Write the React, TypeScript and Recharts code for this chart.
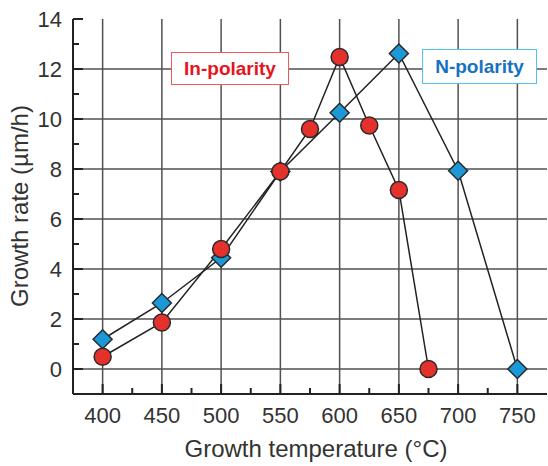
import React from "react";
import {
  LineChart,
  Line,
  XAxis,
  YAxis,
  ReferenceLine,
} from "recharts";

// growth rate (µm/h) vs growth temperature (°C)
const inTemps = [400, 450, 500, 550, 575, 600, 625, 650, 675];
const inRates = [0.49, 1.86, 4.8, 7.9, 9.6, 12.48, 9.74, 7.16, 0];

const nTemps = [400, 450, 500, 550, 600, 650, 700, 750];
const nRates = [1.19, 2.64, 4.45, 7.9, 10.25, 12.62, 7.93, 0];

const majorX = [400, 450, 500, 550, 600, 650, 700, 750];
const minorX = [425, 475, 525, 575, 625, 675, 725];
const majorY = [0, 2, 4, 6, 8, 10, 12, 14];
const minorY = [1, 3, 5, 7, 9, 11, 13];
const gridY = [0, 2, 4, 6, 8, 10, 12];

const xTicks = [...majorX, ...minorX].sort((a, b) => a - b);
const yTicks = [...majorY, ...minorY].sort((a, b) => a - b);

const inData = inTemps.map((t, i) => ({ t, rate: inRates[i] }));
const nData = nTemps.map((t, i) => ({ t, rate: nRates[i] }));

const FONT = "'Liberation Sans', Arial, sans-serif";
const FRAME = "#222";

const tickLen = (major: boolean) => (major ? 10 : 6);

const BottomTick = (p: any) => {
  const v = p.payload.value;
  const major = majorX.includes(v);
  return (
    <g>
      <line x1={p.x} x2={p.x} y1={p.y} y2={p.y - tickLen(major)} stroke={FRAME} strokeWidth={2} />
      {major && (
        <text x={p.x} y={p.y + 29} textAnchor="middle" fontSize={22} fill="#333" fontFamily={FONT}>
          {v}
        </text>
      )}
    </g>
  );
};

const TopTick = (p: any) => {
  const major = majorX.includes(p.payload.value);
  return <line x1={p.x} x2={p.x} y1={p.y} y2={p.y + tickLen(major)} stroke={FRAME} strokeWidth={2} />;
};

const LeftTick = (p: any) => {
  const v = p.payload.value;
  const major = majorY.includes(v);
  return (
    <g>
      <line x1={p.x} x2={p.x + tickLen(major)} y1={p.y} y2={p.y} stroke={FRAME} strokeWidth={2} />
      {major && (
        <text x={p.x - 11} y={p.y + 8} textAnchor="end" fontSize={22} fill="#333" fontFamily={FONT}>
          {v}
        </text>
      )}
    </g>
  );
};

const RightTick = (p: any) => {
  const major = majorY.includes(p.payload.value);
  return <line x1={p.x} x2={p.x - tickLen(major)} y1={p.y} y2={p.y} stroke={FRAME} strokeWidth={2} />;
};

const YTitle = () => (
  <text
    transform="translate(28,206) rotate(-90)"
    textAnchor="middle"
    fontSize={24}
    fill="#333"
    fontFamily={FONT}
  >
    Growth rate (µm/h)
  </text>
);

const Diamond = (p: any) => {
  const { cx, cy } = p;
  if (cx == null || cy == null) return null;
  const r = 9.5;
  return (
    <path
      d={`M${cx},${cy - r}L${cx + r},${cy}L${cx},${cy + r}L${cx - r},${cy}Z`}
      fill="#1b98d5"
      stroke="#2a2a2a"
      strokeWidth={1.5}
    />
  );
};

const Dot = (p: any) => {
  const { cx, cy } = p;
  if (cx == null || cy == null) return null;
  return <circle cx={cx} cy={cy} r={8.5} fill="#e5312b" stroke="#2a2a2a" strokeWidth={1.5} />;
};

const boxStyle: React.CSSProperties = {
  position: "absolute",
  background: "#fff",
  fontFamily: FONT,
  fontWeight: "bold",
  fontSize: 19,
  display: "flex",
  alignItems: "center",
  justifyContent: "center",
  boxSizing: "border-box",
};

export default function App() {
  return (
    <div style={{ position: "absolute", left: 0, top: 0, width: 548, height: 466, background: "#fff" }}>
      <LineChart
        width={548}
        height={466}
        margin={{ top: 19, right: 1, left: 0, bottom: 0 }}
        style={{ fontFamily: FONT }}
      >
        <XAxis
          xAxisId="b"
          dataKey="t"
          type="number"
          domain={[375, 775]}
          allowDataOverflow
          ticks={xTicks}
          interval={0}
          height={72}
          tickSize={0}
          tickMargin={0}
          tickLine={false}
          tick={BottomTick}
          axisLine={{ stroke: FRAME, strokeWidth: 2 }}
          label={{
            value: "Growth temperature (°C)",
            position: "insideBottom",
            offset: 9,
            fontSize: 24,
            fill: "#333",
            dx: 6,
          }}
        />
        <XAxis
          xAxisId="t"
          orientation="top"
          type="number"
          domain={[375, 775]}
          allowDataOverflow
          ticks={xTicks}
          interval={0}
          height={0}
          tickSize={0}
          tickMargin={0}
          tickLine={false}
          tick={TopTick}
          axisLine={{ stroke: FRAME, strokeWidth: 2 }}
        />
        <YAxis
          yAxisId="l"
          type="number"
          domain={[-1, 14]}
          allowDataOverflow
          ticks={yTicks}
          interval={0}
          width={73}
          tickSize={0}
          tickMargin={0}
          tickLine={false}
          tick={LeftTick}
          axisLine={{ stroke: FRAME, strokeWidth: 2 }}
          label={<YTitle />}
        />
        <YAxis
          yAxisId="r"
          orientation="right"
          type="number"
          domain={[-1, 14]}
          allowDataOverflow
          ticks={yTicks}
          interval={0}
          width={0}
          tickSize={0}
          tickMargin={0}
          tickLine={false}
          tick={RightTick}
          axisLine={{ stroke: FRAME, strokeWidth: 2 }}
        />
        {majorX.map((v) => (
          <ReferenceLine key={"gx" + v} xAxisId="b" yAxisId="l" x={v} stroke="#505050" strokeWidth={1.5} />
        ))}
        {gridY.map((v) => (
          <ReferenceLine key={"gy" + v} xAxisId="b" yAxisId="l" y={v} stroke="#505050" strokeWidth={1.5} />
        ))}
        <Line
          xAxisId="b"
          yAxisId="l"
          data={nData}
          dataKey="rate"
          type="linear"
          stroke="#222"
          strokeWidth={1.5}
          dot={Diamond}
          activeDot={false}
          isAnimationActive={false}
        />
        <Line
          xAxisId="b"
          yAxisId="l"
          data={inData}
          dataKey="rate"
          type="linear"
          stroke="#222"
          strokeWidth={1.5}
          dot={Dot}
          activeDot={false}
          isAnimationActive={false}
        />
      </LineChart>
      <div
        style={{
          ...boxStyle,
          left: 171,
          top: 52,
          width: 118,
          height: 33,
          border: "1.5px solid #f05a5a",
          color: "#e8141c",
        }}
      >
        In-polarity
      </div>
      <div
        style={{
          ...boxStyle,
          left: 422,
          top: 49,
          width: 115,
          height: 35,
          border: "1.5px solid #50c4ee",
          color: "#1672c2",
        }}
      >
        N-polarity
      </div>
    </div>
  );
}
